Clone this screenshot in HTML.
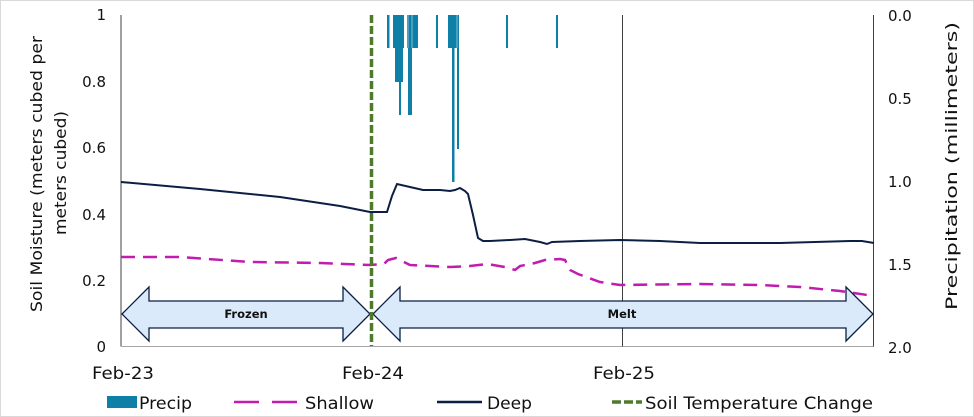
<!DOCTYPE html>
<html><head><style>
body{margin:0;background:#fff;}
svg{display:block;font-family:"DejaVu Sans","Liberation Sans",sans-serif;}
</style></head><body>
<svg width="974" height="417" viewBox="0 0 974 417">
<rect x="0.5" y="0.5" width="973" height="416" fill="#fff" stroke="#d9d9d9"/>
<line x1="121" y1="15" x2="121" y2="346.5" stroke="#404040" stroke-width="1"/>
<line x1="121" y1="346.5" x2="874" y2="346.5" stroke="#a6a6a6" stroke-width="1"/>
<line x1="873.5" y1="15" x2="873.5" y2="346.5" stroke="#404040" stroke-width="1"/>
<line x1="622.5" y1="15" x2="622.5" y2="346.5" stroke="#404040" stroke-width="1"/>
<g fill="#0e7fa6">
<rect x="387" y="15" width="2.5" height="33"/>
<rect x="393" y="15" width="11" height="33"/>
<rect x="395" y="15" width="8" height="67"/>
<rect x="399" y="15" width="2" height="100"/>
<rect x="407" y="15" width="11" height="33"/>
<rect x="408" y="15" width="4" height="100"/>
<rect x="436" y="15" width="2" height="33"/>
<rect x="448" y="15" width="9" height="33"/>
<rect x="452" y="15" width="2.5" height="167"/>
<rect x="457" y="15" width="2" height="134"/>
<rect x="506" y="15" width="2" height="33"/>
<rect x="556" y="15" width="2" height="33"/>
</g>
<g stroke="#a8d0e0" stroke-width="0.8">
<line x1="408" y1="15" x2="408" y2="48"/><line x1="412" y1="15" x2="412" y2="48"/><line x1="457" y1="15" x2="457" y2="48"/>
</g>
<polyline fill="none" stroke="#0b1f45" stroke-width="2" points="121,182 200,189 280,197 340,206 370,212 387,212 392,196 397,184 410,187 423,190 440,190 450,191 455,190 460,188 465,191 468,194 473,215 478,238 483,241 490,241 510,240 525,239 540,242 547,244 552,242 580,241 620,240 660,241 700,243 780,243 850,241 862,241 874,243"/>
<polyline fill="none" stroke="#c21bb0" stroke-width="2.5" stroke-dasharray="14,8" points="121,257 180,257 250,262 320,263 370,265 384,264 388,260 396,258 410,265 430,266 450,267 470,266 487,264 505,267 515,270 520,266 535,263 545,260 560,259 565,260 570,270 578,274 600,282 620,285 700,284 760,285 800,287 840,291 874,296"/>
<g fill="#dbeafb" stroke="#0b1f45" stroke-width="1.3">
<polygon points="122,314 149,287 149,301 343,301 343,287 370,314 343,341 343,328 149,328 149,341"/>
<polygon points="373,314 400,287 400,301 846,301 846,287 873,314 846,341 846,328 400,328 400,341"/>
</g>
<text x="246" y="318" font-size="11.5" font-weight="bold" text-anchor="middle" fill="#111">Frozen</text>
<text x="622" y="318" font-size="11.5" font-weight="bold" text-anchor="middle" fill="#111">Melt</text>
<line x1="371.5" y1="15" x2="371.5" y2="346" stroke="#4e7a2a" stroke-width="3.5" stroke-dasharray="8,3"/>
<g font-size="15" fill="#111" text-anchor="end">
<text x="106" y="20">1</text><text x="106" y="87">0.8</text><text x="106" y="153">0.6</text>
<text x="106" y="220">0.4</text><text x="106" y="286">0.2</text><text x="106" y="352">0</text>
</g>
<g font-size="15" fill="#111" text-anchor="start">
<text x="888" y="21">0.0</text><text x="888" y="104">0.5</text><text x="888" y="187">1.0</text>
<text x="888" y="270">1.5</text><text x="888" y="353">2.0</text>
</g>
<g font-size="17" fill="#111">
<text x="92" y="379" textLength="62" lengthAdjust="spacingAndGlyphs">Feb-23</text>
<text x="342" y="379" textLength="62" lengthAdjust="spacingAndGlyphs">Feb-24</text>
<text x="593" y="379" textLength="62" lengthAdjust="spacingAndGlyphs">Feb-25</text>
</g>
<text transform="translate(42,312) rotate(-90)" font-size="16" fill="#111" textLength="276" lengthAdjust="spacingAndGlyphs">Soil Moisture (meters cubed per</text>
<text transform="translate(66,235) rotate(-90)" font-size="16" fill="#111" textLength="124" lengthAdjust="spacingAndGlyphs">meters cubed)</text>
<text transform="translate(957,310) rotate(-90)" font-size="16" fill="#111" textLength="288" lengthAdjust="spacingAndGlyphs">Precipitation (millimeters)</text>
<rect x="107" y="396" width="30" height="12" fill="#0e7fa6"/>
<text x="139" y="409" font-size="17" fill="#111" textLength="53" lengthAdjust="spacingAndGlyphs">Precip</text>
<line x1="234" y1="402" x2="297" y2="402" stroke="#c21bb0" stroke-width="2.5" stroke-dasharray="25,13"/>
<text x="305" y="409" font-size="17" fill="#111" textLength="69" lengthAdjust="spacingAndGlyphs">Shallow</text>
<line x1="437" y1="402" x2="482" y2="402" stroke="#0b1f45" stroke-width="2.5"/>
<text x="487" y="409" font-size="17" fill="#111" textLength="45" lengthAdjust="spacingAndGlyphs">Deep</text>
<line x1="612" y1="402" x2="642" y2="402" stroke="#4e7a2a" stroke-width="3.5" stroke-dasharray="9,3"/>
<text x="645" y="409" font-size="17" fill="#111" textLength="228" lengthAdjust="spacingAndGlyphs">Soil Temperature Change</text>
</svg>
</body></html>
